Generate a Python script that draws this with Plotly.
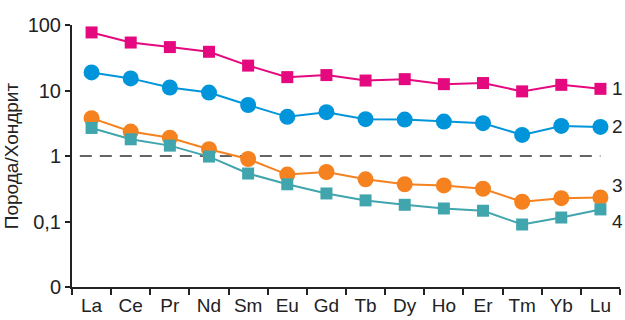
import math
import plotly.graph_objects as go

elements = ["La", "Ce", "Pr", "Nd", "Sm", "Eu", "Gd", "Tb", "Dy", "Ho", "Er", "Tm", "Yb", "Lu"]
series1 = [77, 54, 46, 39, 24, 16, 17.2, 14.2, 14.9, 12.5, 13, 9.7, 12.2, 10.6]
series2 = [18.9, 15.3, 11.1, 9.3, 6.0, 3.96, 4.67, 3.65, 3.6, 3.35, 3.17, 2.1, 2.88, 2.78]
series3 = [3.78, 2.36, 1.9, 1.27, 0.90, 0.52, 0.57, 0.44, 0.37, 0.356, 0.316, 0.2, 0.227, 0.233]
series4 = [2.68, 1.80, 1.44, 0.98, 0.54, 0.37, 0.268, 0.21, 0.18, 0.158, 0.146, 0.09, 0.115, 0.153]
series_labels = ["1", "2", "3", "4"]
label_values = [10.6, 2.78, 0.35, 0.10]
ytick_vals = [0.01, 0.1, 1, 10, 100]
ytick_text = ["0", "0,1", "1", "10", "100"]
ref_level = 1

styles = [
    dict(color="#E4097F", symbol="square", size=12),
    dict(color="#0095DA", symbol="circle", size=16),
    dict(color="#F5821F", symbol="circle", size=16),
    dict(color="#41A5AE", symbol="square", size=12),
]

fig = go.Figure()
for vals, st in zip([series1, series2, series3, series4], styles):
    fig.add_trace(go.Scatter(
        x=elements, y=vals, mode="lines+markers",
        line=dict(color=st["color"], width=2),
        marker=dict(color=st["color"], symbol=st["symbol"], size=st["size"], line=dict(width=0)),
        showlegend=False, cliponaxis=False, hoverinfo="skip",
    ))

# reference dashed line at 1
fig.add_shape(type="line", xref="x", yref="y", x0=-0.3, x1=13, y0=ref_level, y1=ref_level,
              line=dict(color="#333333", width=1.5, dash="12px,8px"), layer="below")

# end labels
for lab, yv in zip(series_labels, label_values):
    fig.add_annotation(x=13, xref="x", y=math.log10(yv), yref="y",
                       text=lab, showarrow=False, xanchor="left", xshift=10,
                       font=dict(size=19, color="#222222"))

fig.update_layout(
    width=625, height=320,
    margin=dict(l=72, r=5, t=25, b=33, autoexpand=False),
    paper_bgcolor="white", plot_bgcolor="white",
    font=dict(family="Liberation Sans, Arial, sans-serif", color="#222222"),
)
fig.update_xaxes(
    type="category", tickson="boundaries", range=[-0.5, 13.5],
    showline=True, linecolor="#222222", linewidth=2,
    ticks="outside", ticklen=6, tickwidth=1.5, tickcolor="#222222",
    tickfont=dict(size=19), showgrid=False, zeroline=False, automargin=False,
)
fig.update_yaxes(
    type="log", range=[-2, 2],
    tickvals=ytick_vals, ticktext=ytick_text,
    showline=True, linecolor="#222222", linewidth=2,
    ticks="outside", ticklen=5, tickwidth=1.5, tickcolor="#222222",
    tickfont=dict(size=20), showgrid=False, zeroline=False, automargin=False,
    title=dict(text="Порода/Хондрит", font=dict(size=19), standoff=4),
)

fig.write_html(
    "out.html",
    config={"displayModeBar": False},
    post_script="document.body.style.margin='0';document.body.style.overflow='hidden';",
)
